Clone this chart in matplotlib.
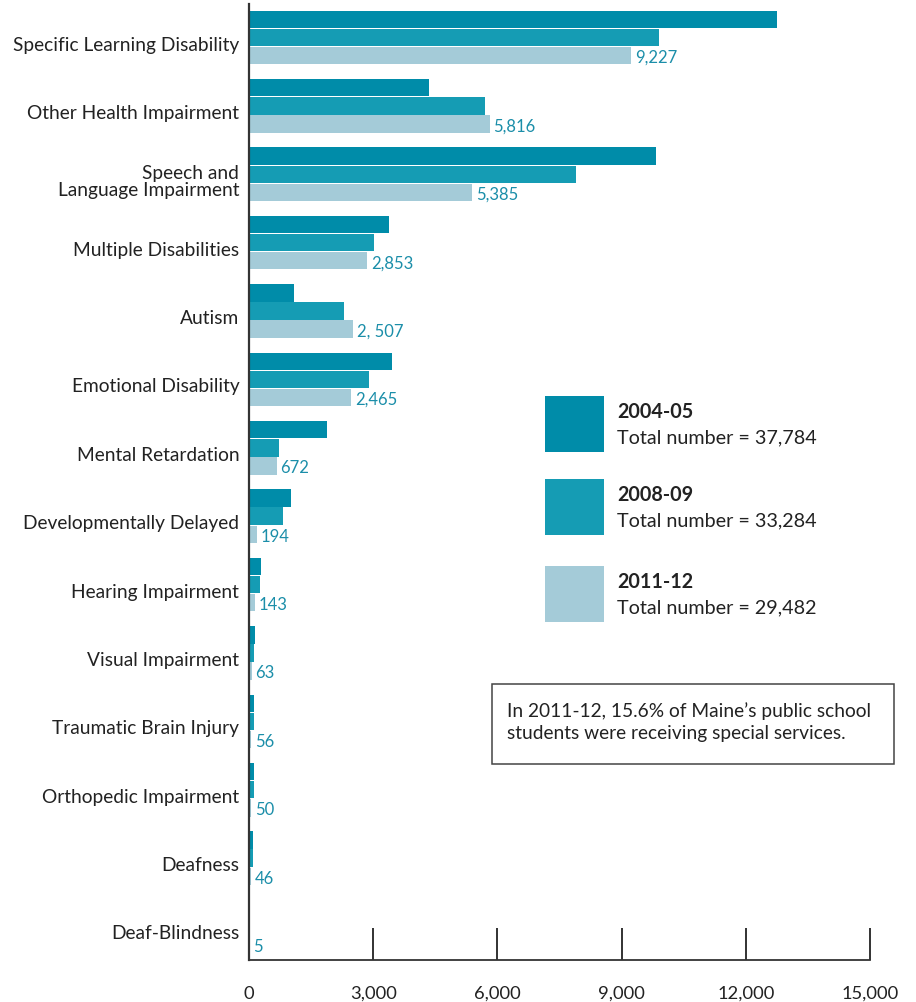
import numpy as np
import matplotlib
matplotlib.use("Agg")
import matplotlib.pyplot as plt
import matplotlib.transforms as mtransforms
from matplotlib.patches import Rectangle

plt.rcParams["font.family"] = ["Lato", "DejaVu Sans"]

categories = [
    "Specific Learning Disability", "Other Health Impairment",
    "Speech and\nLanguage Impairment", "Multiple Disabilities", "Autism",
    "Emotional Disability", "Mental Retardation", "Developmentally Delayed",
    "Hearing Impairment", "Visual Impairment", "Traumatic Brain Injury",
    "Orthopedic Impairment", "Deafness", "Deaf-Blindness",
]
vals_2004 = [12750, 4350, 9830, 3380, 1090, 3450, 1880, 1010, 290, 140, 130, 120, 100, 15]
vals_2008 = [9900, 5700, 7900, 3020, 2300, 2900, 725, 820, 265, 130, 125, 120, 100, 12]
vals_2011 = [9227, 5816, 5385, 2853, 2507, 2465, 672, 194, 143, 63, 56, 50, 46, 5]
labels_2011 = ["9,227", "5,816", "5,385", "2,853", "2, 507", "2,465", "672", "194",
               "143", "63", "56", "50", "46", "5"]

series_names = ["2004-05", "2008-09", "2011-12"]
series_totals = ["Total number = 37,784", "Total number = 33,284", "Total number = 29,482"]
colors = ["#008CA9", "#159CB4", "#A4CBD8"]
note = "In 2011-12, 15.6% of Maine\u2019s public school\nstudents were receiving special services."

xticks = [0, 3000, 6000, 9000, 12000, 15000]

fig = plt.figure(figsize=(9.16, 10.03), dpi=100)
W, H = 916, 1003
ax = fig.add_axes([249 / W, 1 - 961 / H, (870 - 249) / W, (961 - 5) / H])

y = np.arange(len(categories))
h = 0.255
off = 0.265
for i, (vals, c) in enumerate(zip([vals_2004, vals_2008, vals_2011], colors)):
    ax.barh(y + (i - 1) * off, vals, height=h, color=c, linewidth=0)

# value labels for the latest year only
for yi, v, lab in zip(y, vals_2011, labels_2011):
    ax.text(v + 90, yi + off + 0.02, lab, color="#1B8EA9", fontsize=12,
            va="center", ha="left")

ax.set_xlim(0, 15000)
ax.set_ylim(len(categories) - 0.51, -0.49)
ax.set_xticks(xticks)
ax.set_xticklabels([f"{t:,}" for t in xticks], fontsize=13.2, color="#222222")
ax.tick_params(axis="x", direction="in", length=23, width=1.3, color="#222222", pad=18)
ax.set_yticks(y)
ax.set_yticklabels(categories, fontsize=13.8, color="#222222", linespacing=1.0)
ax.tick_params(axis="y", length=0, pad=7)
shift = mtransforms.ScaledTranslation(0, -5 / 100, fig.dpi_scale_trans)
for t in ax.get_yticklabels():
    t.set_transform(t.get_transform() + shift)
    t.set_multialignment("right")

for s in ["top", "right"]:
    ax.spines[s].set_visible(False)
ax.spines["left"].set_linewidth(1.6)
ax.spines["left"].set_color("#333333")
ax.spines["bottom"].set_linewidth(1.3)
ax.spines["bottom"].set_color("#333333")

# legend made of swatches and text
sw_tops = [397, 480, 567]
for top, c, name, total in zip(sw_tops, colors, series_names, series_totals):
    fig.patches.append(Rectangle((545 / W, 1 - (top + 56) / H), 59 / W, 56 / H,
                                 transform=fig.transFigure, color=c, lw=0))
    fig.text(617 / W, 1 - (top + 15) / H, name, fontsize=14.2, fontweight="bold",
             color="#222222", va="center")
    fig.text(617 / W, 1 - (top + 41) / H, total, fontsize=14.2,
             color="#222222", va="center")

fig.patches.append(Rectangle((492 / W, 1 - 765 / H), 402 / W, 80 / H,
                             transform=fig.transFigure, facecolor="white",
                             edgecolor="#444444", lw=1.1))
fig.text(507 / W, 1 - 722 / H, note, fontsize=13.8, color="#222222",
         va="center", linespacing=1.35)

fig.savefig("out.png", dpi=100)
